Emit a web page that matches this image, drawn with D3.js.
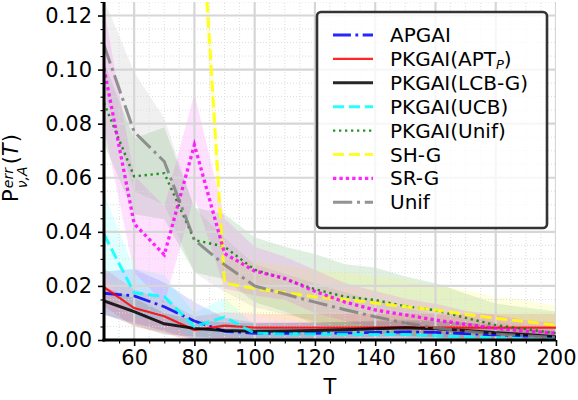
<!DOCTYPE html>
<html>
<head>
<meta charset="utf-8">
<script src="https://cdn.jsdelivr.net/npm/d3@7"></script>
<style>
  body { margin: 0; background: #fff; }
  svg { font-family: "DejaVu Sans", sans-serif; }
</style>
</head>
<body>
<svg id="chart" width="578" height="400"></svg>
<script>
// budget values T
var T = [50, 60, 70, 80, 90, 100, 110, 120, 130, 140, 150, 160, 170, 180, 190, 200];

// mean error per method
var apgai     = [0.0173, 0.0163, 0.0123, 0.0070, 0.0032, 0.0025, 0.0025, 0.0025, 0.0026, 0.0028, 0.0030, 0.0028, 0.0024, 0.0019, 0.0014, 0.0010];
var pkgaiApt  = [0.0195, 0.0118, 0.0088, 0.0037, 0.0053, 0.0046, 0.0046, 0.0046, 0.0046, 0.0047, 0.0048, 0.0047, 0.0046, 0.0046, 0.0046, 0.0046];
var pkgaiLcb  = [0.0145, 0.0105, 0.0060, 0.0043, 0.0035, 0.0032, 0.0033, 0.0035, 0.0038, 0.0042, 0.0045, 0.0042, 0.0035, 0.0027, 0.0020, 0.0012];
var pkgaiUcb  = [0.0390, 0.0175, 0.0160, 0.0050, 0.0085, 0.0025, 0.0022, 0.0022, 0.0021, 0.0020, 0.0020, 0.0016, 0.0012, 0.0008, 0.0005, 0.0003];
var pkgaiUnif = [0.0877, 0.0605, 0.0617, 0.0370, 0.0345, 0.0260, 0.0225, 0.0188, 0.0160, 0.0148, 0.0125, 0.0110, 0.0082, 0.0055, 0.0040, 0.0025];
var shG       = [0.6000, 0.4500, 0.3300, 0.2000, 0.0210, 0.0190, 0.0175, 0.0160, 0.0150, 0.0137, 0.0123, 0.0111, 0.0095, 0.0080, 0.0068, 0.0055];
var srG       = [0.1005, 0.0430, 0.0315, 0.0722, 0.0320, 0.0255, 0.0228, 0.0180, 0.0140, 0.0111, 0.0093, 0.0074, 0.0058, 0.0043, 0.0033, 0.0025];
var unif      = [0.1090, 0.0770, 0.0660, 0.0370, 0.0278, 0.0200, 0.0170, 0.0140, 0.0112, 0.0086, 0.0063, 0.0045, 0.0032, 0.0022, 0.0015, 0.0010];

// half width of the shaded bands
var apgaiBand     = [0.008, 0.010, 0.009, 0.007, 0.005, 0.004, 0.004, 0.004, 0.004, 0.004, 0.004, 0.004, 0.004, 0.003, 0.003, 0.003];
var pkgaiAptBand  = [0.007, 0.007, 0.006, 0.005, 0.005, 0.005, 0.005, 0.005, 0.005, 0.005, 0.005, 0.005, 0.005, 0.005, 0.005, 0.005];
var pkgaiLcbBand  = [0.005, 0.005, 0.004, 0.003, 0.003, 0.003, 0.003, 0.003, 0.003, 0.003, 0.003, 0.003, 0.003, 0.003, 0.002, 0.002];
var pkgaiUcbBand  = [0.015, 0.009, 0.008, 0.005, 0.007, 0.003, 0.002, 0.002, 0.002, 0.002, 0.002, 0.002, 0.002, 0.0015, 0.0015, 0.001];
var pkgaiUnifBand = [0.015, 0.014, 0.017, 0.012, 0.012, 0.012, 0.012, 0.013, 0.012, 0.012, 0.011, 0.010, 0.009, 0.008, 0.008, 0.008];
var shGBand       = [0.020, 0.020, 0.020, 0.020, 0.010, 0.010, 0.010, 0.010, 0.010, 0.010, 0.010, 0.009, 0.009, 0.008, 0.008, 0.007];
var srGBand       = [0.022, 0.018, 0.018, 0.019, 0.013, 0.009, 0.008, 0.008, 0.007, 0.007, 0.006, 0.006, 0.005, 0.005, 0.004, 0.004];
var unifBand      = [0.017, 0.022, 0.016, 0.012, 0.010, 0.008, 0.0075, 0.007, 0.0065, 0.006, 0.0055, 0.005, 0.005, 0.0045, 0.004, 0.004];

var xTicks = [60, 80, 100, 120, 140, 160, 180, 200];
var yTicks = [0, 0.02, 0.04, 0.06, 0.08, 0.10, 0.12];

var series = [
  {name: "APGAI", v: apgai, band: apgaiBand, color: "blue", lw: 2.8, dash: "dashdot"},
  {name: "PKGAI(APT", sub: "P", v: pkgaiApt, band: pkgaiAptBand, color: "red", lw: 2.2, dash: null},
  {name: "PKGAI(LCB-G)", v: pkgaiLcb, band: pkgaiLcbBand, color: "black", lw: 3, dash: null},
  {name: "PKGAI(UCB)", v: pkgaiUcb, band: pkgaiUcbBand, color: "cyan", lw: 3, dash: "dashed"},
  {name: "PKGAI(Unif)", v: pkgaiUnif, band: pkgaiUnifBand, color: "green", lw: 2.4, dash: "dotted"},
  {name: "SH-G", v: shG, band: shGBand, color: "yellow", lw: 3, dash: "dashed"},
  {name: "SR-G", v: srG, band: srGBand, color: "magenta", lw: 3.3, dash: "dotted2"},
  {name: "Unif", v: unif, band: unifBand, color: "gray", lw: 3, dash: "dashdot"}
];

function dashArray(d, lw) {
  if (d === "dashdot") return [6.4, 1.6, 1, 1.6].map(function(k) { return k * lw; }).join(",");
  if (d === "dashed") return [3.7, 1.6].map(function(k) { return k * lw; }).join(",");
  if (d === "dotted") return "2.3,3.7";
  if (d === "dotted2") return "3.3,3.1";
  return null;
}

var svg = d3.select("#chart");
var x = d3.scaleLinear().domain([50, 200]).range([104, 556]);
var y = d3.scaleLinear().domain([0, 0.125]).range([340, 2]);

svg.append("clipPath").attr("id", "plotclip")
  .append("rect").attr("x", x(50)).attr("y", y(0.125))
  .attr("width", x(200) - x(50)).attr("height", y(0) - y(0.125));

var plot = svg.append("g").attr("clip-path", "url(#plotclip)");

// bands
var area = d3.area()
  .x(function(d) { return x(d.t); })
  .y0(function(d) { return y(d.m - d.b); })
  .y1(function(d) { return y(d.m + d.b); });

series.forEach(function(s) {
  var pts = T.map(function(t, i) { return {t: t, m: s.v[i], b: s.band[i]}; });
  plot.append("path").attr("d", area(pts))
    .attr("fill", s.color).attr("fill-opacity", 0.12).attr("stroke", "none");
});

// grid (above bands, below lines)
var xMinor = d3.range(55, 201, 5).filter(function(v) { return v % 20 !== 0; });
var yMinor = d3.range(0.005, 0.1251, 0.005).filter(function(v) { return Math.abs(v / 0.02 - Math.round(v / 0.02)) > 0.01; });

plot.selectAll(".gxm").data(xMinor).enter().append("line")
  .attr("x1", function(d) { return x(d); }).attr("x2", function(d) { return x(d); })
  .attr("y1", y(0)).attr("y2", y(0.125))
  .attr("stroke", "#dcdcdc").attr("stroke-width", 1).attr("stroke-dasharray", "1,2");
plot.selectAll(".gym").data(yMinor).enter().append("line")
  .attr("y1", function(d) { return y(d); }).attr("y2", function(d) { return y(d); })
  .attr("x1", x(50)).attr("x2", x(200))
  .attr("stroke", "#dcdcdc").attr("stroke-width", 1).attr("stroke-dasharray", "1,2");
plot.selectAll(".gx").data(xTicks).enter().append("line")
  .attr("x1", function(d) { return x(d); }).attr("x2", function(d) { return x(d); })
  .attr("y1", y(0)).attr("y2", y(0.125))
  .attr("stroke", "#d6d6d6").attr("stroke-width", 2.2);
plot.selectAll(".gy").data(yTicks).enter().append("line")
  .attr("y1", function(d) { return y(d); }).attr("y2", function(d) { return y(d); })
  .attr("x1", x(50)).attr("x2", x(200))
  .attr("stroke", "#d6d6d6").attr("stroke-width", 2.2);

// lines
var line = d3.line().x(function(d, i) { return x(T[i]); }).y(function(d) { return y(d); });
series.forEach(function(s) {
  plot.append("path").attr("d", line(s.v))
    .attr("fill", "none").attr("stroke", s.color).attr("stroke-opacity", 0.85)
    .attr("stroke-width", s.lw).attr("stroke-dasharray", dashArray(s.dash, s.lw));
});

// axes
var xAxis = svg.append("g").attr("transform", "translate(0," + y(0) + ")")
  .call(d3.axisBottom(x).tickValues(xTicks).tickSize(6).tickPadding(4).tickFormat(d3.format("d")));
var xAxisMinor = svg.append("g").attr("transform", "translate(0," + y(0) + ")")
  .call(d3.axisBottom(x).tickValues(xMinor).tickSize(3.5).tickFormat(""));
var yAxis = svg.append("g").attr("transform", "translate(" + x(50) + ",0)")
  .call(d3.axisLeft(y).tickValues(yTicks).tickSize(6).tickPadding(6).tickFormat(d3.format(".2f")));
var yAxisMinor = svg.append("g").attr("transform", "translate(" + x(50) + ",0)")
  .call(d3.axisLeft(y).tickValues(yMinor).tickSize(3.5).tickFormat(""));

[xAxis, yAxis].forEach(function(a) {
  a.select(".domain").remove();
  a.selectAll(".tick line").attr("stroke", "#000").attr("stroke-width", 1.6);
  a.selectAll(".tick text").attr("fill", "#000").style("font-size", "21px").style("font-family", "DejaVu Sans");
});
[xAxisMinor, yAxisMinor].forEach(function(a) {
  a.select(".domain").remove();
  a.selectAll(".tick line").attr("stroke", "#000").attr("stroke-width", 1.1);
});

// spines
svg.append("line").attr("x1", x(50)).attr("x2", x(50)).attr("y1", y(0.125)).attr("y2", y(0) + 1.5)
  .attr("stroke", "#000").attr("stroke-width", 3);
svg.append("line").attr("x1", x(50) - 1.5).attr("x2", x(200)).attr("y1", y(0)).attr("y2", y(0))
  .attr("stroke", "#000").attr("stroke-width", 3);

// x label
svg.append("text").attr("x", (x(50) + x(200)) / 2).attr("y", 394)
  .attr("text-anchor", "middle").style("font-size", "21px").text("T");

// y label: P^{err}_{nu,A}(T)
var yl = svg.append("g");
var px = 0;
var tP = yl.append("text").attr("x", 0).attr("y", 0).style("font-size", "21px").text("P");
px += tP.node().getComputedTextLength() + 1;
var tSup = yl.append("text").attr("x", px).attr("y", -5).style("font-size", "14px").style("font-style", "italic").text("err");
var tSub = yl.append("text").attr("x", px).attr("y", 9).style("font-size", "14px").style("font-style", "italic").text("ν,A");
px += Math.max(tSup.node().getComputedTextLength(), tSub.node().getComputedTextLength()) + 2;
var t1 = yl.append("text").attr("x", px).attr("y", 0).style("font-size", "21px").text("(");
px += t1.node().getComputedTextLength();
var t2 = yl.append("text").attr("x", px).attr("y", 0).style("font-size", "21px").style("font-style", "italic").text("T");
px += t2.node().getComputedTextLength() + 1;
var t3 = yl.append("text").attr("x", px).attr("y", 0).style("font-size", "21px").text(")");
px += t3.node().getComputedTextLength();
yl.attr("transform", "translate(18," + (168 + px / 2) + ") rotate(-90)");

// legend
var lg = svg.append("g");
lg.append("rect").attr("x", 317).attr("y", 12).attr("width", 230).attr("height", 216)
  .attr("rx", 4).attr("fill", "#fff").attr("fill-opacity", 0.8)
  .attr("stroke", "#333").attr("stroke-width", 2.6);
series.forEach(function(s, i) {
  var cy = 35 + i * 23.9;
  lg.append("line").attr("x1", 333).attr("x2", 373).attr("y1", cy).attr("y2", cy)
    .attr("stroke", s.color).attr("stroke-opacity", 0.85).attr("stroke-width", s.lw)
    .attr("stroke-dasharray", dashArray(s.dash, s.lw));
  var t = lg.append("text").attr("x", 390).attr("y", cy + 7).style("font-size", "20px").text(s.name);
  if (s.sub) {
    t.append("tspan").attr("dy", 3).style("font-size", "13px").style("font-style", "italic").text(s.sub);
    t.append("tspan").attr("dy", -3).text(")");
  }
});
</script>
</body>
</html>
